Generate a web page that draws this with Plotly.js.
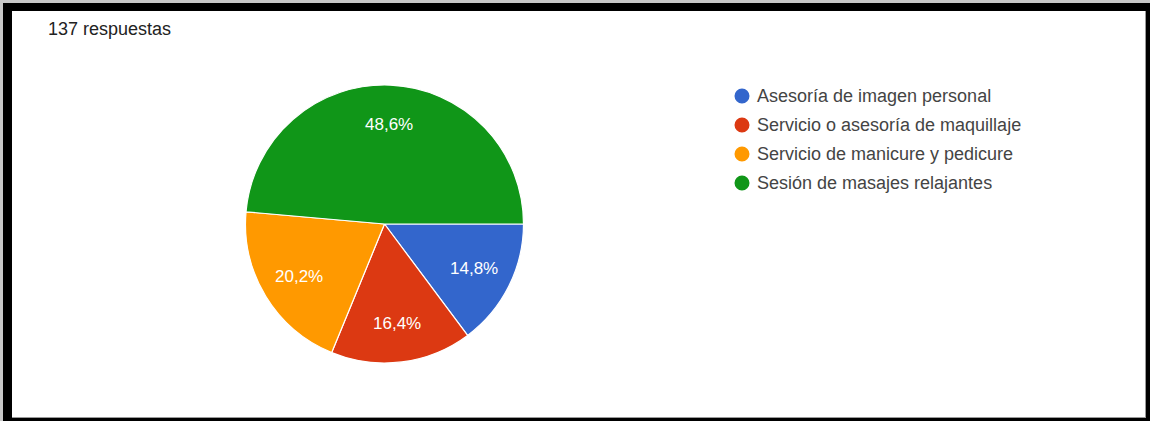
<!DOCTYPE html>
<html>
<head>
<meta charset="utf-8">
<script src="https://cdn.plot.ly/plotly-3.0.1.min.js"></script>
<style>
  html, body { margin: 0; padding: 0; background: #ffffff; width: 1150px; height: 421px; overflow: hidden; }
  #chart { position: absolute; left: 0; top: 0; width: 1150px; height: 421px; }
  #grayedge { position: absolute; left: 0; top: 0; width: 1150px; height: 421px; box-sizing: border-box;
              border-left: 3px solid #c9c9c9; border-top: 3px solid #c9c9c9; pointer-events: none; }
  #frame { position: absolute; left: 3px; top: 3px; width: 1147px; height: 418px; box-sizing: border-box;
           border-left: 9px solid #000; border-top: 8px solid #000; border-right: 4px solid #000; border-bottom: 3px solid #000;
           pointer-events: none; }
  #inner { position: absolute; left: 0; top: 0; right: 0; bottom: 0; border-right: 1px solid #9a9a9a; border-bottom: 1px solid #9a9a9a; }
</style>
</head>
<body>
<div id="chart"></div>
<div id="grayedge"></div>
<div id="frame"><div id="inner"></div></div>
<script>
// ---- data ----
const categories = [
  "Asesoría de imagen personal",
  "Servicio o asesoría de maquillaje",
  "Servicio de manicure y pedicure",
  "Sesión de masajes relajantes"
];
const percentValues = [14.8, 16.4, 20.2, 48.6];
const percentLabels = ["14,8%", "16,4%", "20,2%", "48,6%"];
const sliceColors = ["#3366cc", "#dc3912", "#ff9900", "#109618"];
const responsesTitle = "137 respuestas";

// ---- layout helpers (pixel -> paper, margins are 0) ----
const W = 1150, H = 421;
const px = x => x / W;
const py = y => 1 - y / H;

const pieCx = 384.5, pieCy = 224, pieR = 139;
const startAngleDeg = 90;      // first slice starts at 3 o'clock, clockwise
const labelRadiusFrac = 0.72;  // where slice labels sit (fraction of radius)
const fontFam = "Liberation Sans, Arial, sans-serif";

const trace = {
  type: "pie",
  labels: categories,
  values: percentValues,
  textinfo: "none",
  sort: false,
  direction: "clockwise",
  rotation: startAngleDeg,
  marker: { colors: sliceColors, line: { color: "#ffffff", width: 1.2 } },
  hoverinfo: "label+percent",
  showlegend: false,
  domain: {
    x: [px(pieCx - pieR), px(pieCx + pieR)],
    y: [py(pieCy + pieR), py(pieCy - pieR)]
  }
};

const shapes = [];
const annotations = [];

// slice labels, positioned from the values (mid-angle of each slice)
const total = percentValues.reduce((a, b) => a + b, 0);
let cum = 0;
percentValues.forEach((v, i) => {
  const midFrac = (cum + v / 2) / total;
  cum += v;
  const ang = midFrac * 2 * Math.PI; // clockwise from 3 o'clock (screen coords)
  const lx = pieCx + Math.cos(ang) * pieR * labelRadiusFrac;
  const ly = pieCy + Math.sin(ang) * pieR * labelRadiusFrac;
  annotations.push({
    xref: "paper", yref: "paper", x: px(lx), y: py(ly),
    xanchor: "center", yanchor: "middle", showarrow: false,
    text: percentLabels[i],
    font: { family: fontFam, size: 17, color: "#ffffff" }
  });
});

// legend drawn as circles + text
const legX = 742, legY0 = 96, legStep = 29, legRad = 7.5;
categories.forEach((c, i) => {
  const cy = legY0 + i * legStep;
  shapes.push({
    type: "circle", xref: "paper", yref: "paper",
    x0: px(legX - legRad), x1: px(legX + legRad),
    y0: py(cy + legRad), y1: py(cy - legRad),
    fillcolor: sliceColors[i], line: { width: 0 }
  });
  annotations.push({
    xref: "paper", yref: "paper", x: px(755), y: py(cy),
    xanchor: "left", yanchor: "middle", showarrow: false,
    text: c,
    font: { family: fontFam, size: 18, color: "#444444" }
  });
});
annotations.push({
  xref: "paper", yref: "paper", x: px(46), y: py(29),
  xanchor: "left", yanchor: "middle", showarrow: false,
  text: responsesTitle,
  font: { family: fontFam, size: 18, color: "#222222" }
});

const layout = {
  width: W, height: H,
  margin: { l: 0, r: 0, t: 0, b: 0, pad: 0 },
  paper_bgcolor: "#ffffff",
  showlegend: false,
  shapes: shapes,
  annotations: annotations
};

Plotly.newPlot("chart", [trace], layout, { displayModeBar: false, staticPlot: true });
</script>
</body>
</html>
